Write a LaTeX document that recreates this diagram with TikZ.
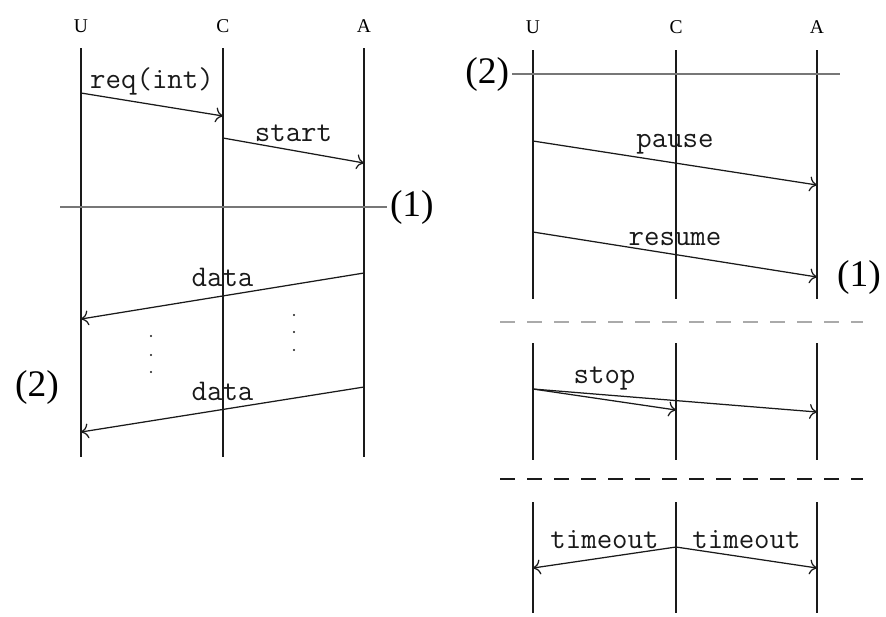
\documentclass[tikz,border=0pt]{standalone}
\usepackage{fontspec}
\setmainfont{Liberation Serif}
\usetikzlibrary{arrows.meta}
\definecolor{linegray}{HTML}{777777}
\definecolor{dashgray}{HTML}{AAAAAA}
\definecolor{wireblack}{HTML}{1A1A1A}

\tikzset{
  party/.style={font=\fontsize{7.8}{9}\selectfont},
  lifeline/.style={wireblack, line width=0.8pt},
  msg/.style={wireblack, line width=0.5pt, ->},
  msglabel/.style={font=\fontsize{12}{14}\selectfont\ttfamily, above},
  phase/.style={font=\fontsize{15}{18}\selectfont, inner sep=1pt},
  phaseline/.style={linegray, line width=0.8pt},
  cutline/.style={line width=0.8pt, dash pattern=on 6pt off 4.8pt},
}

\begin{document}
\begin{tikzpicture}[x=0.4pt, y=-0.4pt, >={To[length=3pt,width=6pt]}]
  \useasboundingbox (0,0) rectangle (886,616);

  % left chart
  \node[party] (lU) at (81,26) {U};
  \node[party] (lC) at (223,26) {C};
  \node[party] (lA) at (364,26) {A};
  \coordinate (lUt) at (81,48);   \coordinate (lUb) at (81,457);
  \coordinate (lCt) at (223,48);  \coordinate (lCb) at (223,457);
  \coordinate (lAt) at (364,48);  \coordinate (lAb) at (364,457);
  \draw[lifeline] (lUt) -- (lUb);
  \draw[lifeline] (lCt) -- (lCb);
  \draw[lifeline] (lAt) -- (lAb);

  \coordinate (req0) at (81,93);     \coordinate (req1) at (223,116);
  \coordinate (start0) at (223,138); \coordinate (start1) at (364,163);
  \coordinate (dataA0) at (364,273); \coordinate (dataA1) at (81,319);
  \coordinate (dataB0) at (364,387); \coordinate (dataB1) at (81,432);
  \draw[msg] (req0) -- node[msglabel] {req(int)} (req1);
  \draw[msg] (start0) -- node[msglabel] {start} (start1);
  \draw[msg] (dataA0) -- node[msglabel] {data} (dataA1);
  \draw[msg] (dataB0) -- node[msglabel] {data} (dataB1);

  \node[phase, anchor=west] (lph1) at (387,207) {(1)};
  \coordinate (lcut) at (60,207);
  \draw[phaseline] (lcut) -- (lph1);
  \node[phase] (lph2) at (37,387) {(2)};

  \fill[wireblack] (151,336) circle (0.45pt);
  \fill[wireblack] (151,355) circle (0.45pt);
  \fill[wireblack] (151,372) circle (0.45pt);
  \fill[wireblack] (294,315) circle (0.45pt);
  \fill[wireblack] (294,332) circle (0.45pt);
  \fill[wireblack] (294,350) circle (0.45pt);

  % right chart
  \node[party] (rU) at (533,27) {U};
  \node[party] (rC) at (676,27) {C};
  \node[party] (rA) at (817,27) {A};
  \coordinate (rUt) at (533,50);   \coordinate (rUb) at (533,299);
  \coordinate (rCt) at (676,50);   \coordinate (rCb) at (676,299);
  \coordinate (rAt) at (817,50);   \coordinate (rAb) at (817,299);
  \draw[lifeline] (rUt) -- (rUb);
  \draw[lifeline] (rCt) -- (rCb);
  \draw[lifeline] (rAt) -- (rAb);
  \coordinate (rUt2) at (533,343); \coordinate (rUb2) at (533,460);
  \coordinate (rCt2) at (676,343); \coordinate (rCb2) at (676,460);
  \coordinate (rAt2) at (817,343); \coordinate (rAb2) at (817,460);
  \draw[lifeline] (rUt2) -- (rUb2);
  \draw[lifeline] (rCt2) -- (rCb2);
  \draw[lifeline] (rAt2) -- (rAb2);
  \coordinate (rUt3) at (533,502); \coordinate (rUb3) at (533,613);
  \coordinate (rCt3) at (676,502); \coordinate (rCb3) at (676,613);
  \coordinate (rAt3) at (817,502); \coordinate (rAb3) at (817,613);
  \draw[lifeline] (rUt3) -- (rUb3);
  \draw[lifeline] (rCt3) -- (rCb3);
  \draw[lifeline] (rAt3) -- (rAb3);

  \node[phase, anchor=east] (rph2) at (512,74) {(2)};
  \coordinate (rcut) at (840,74);
  \draw[phaseline] (rph2) -- (rcut);
  \node[phase] (rph1) at (859,277) {(1)};

  \coordinate (pause0) at (533,141);  \coordinate (pause1) at (817,185);
  \coordinate (resume0) at (533,232); \coordinate (resume1) at (817,277);
  \draw[msg] (pause0) -- node[msglabel] {pause} (pause1);
  \draw[msg] (resume0) -- node[msglabel] {resume} (resume1);

  \coordinate (gapA0) at (500,322); \coordinate (gapA1) at (863,322);
  \draw[cutline, dashgray] (gapA0) -- (gapA1);

  \coordinate (stop0) at (533,389); \coordinate (stopC) at (676,410);
  \coordinate (stopA) at (817,412);
  \draw[msg] (stop0) -- node[msglabel] {stop} (stopC);
  \draw[msg] (stop0) -- (stopA);

  \coordinate (gapB0) at (500,479); \coordinate (gapB1) at (863,479);
  \draw[cutline, wireblack] (gapB0) -- (gapB1);

  \coordinate (tout0) at (676,547); \coordinate (toutU) at (533,568);
  \coordinate (toutA) at (817,568);
  \draw[msg] (tout0) -- node[msglabel] {timeout} (toutU);
  \draw[msg] (tout0) -- node[msglabel] {timeout} (toutA);
\end{tikzpicture}
\end{document}
